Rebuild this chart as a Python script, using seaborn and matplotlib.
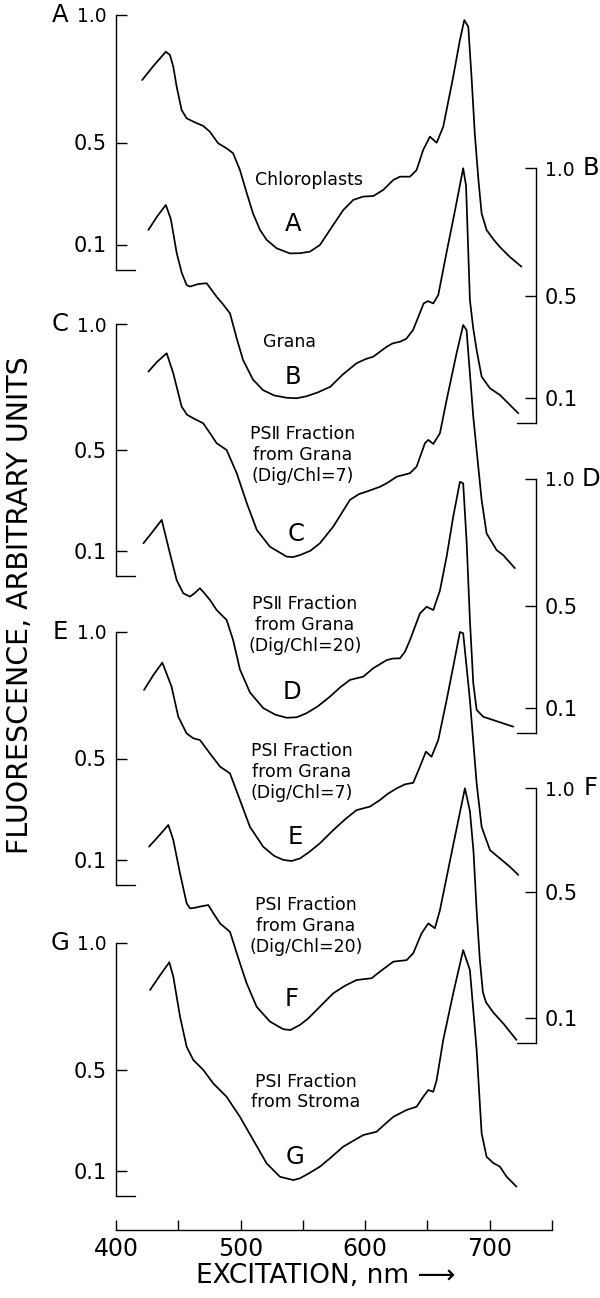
import matplotlib
matplotlib.use("Agg")
import matplotlib.pyplot as plt
import seaborn as sns

# ---------------------------------------------------------------
# Fluorescence excitation spectra (wavelength in nm, relative units)
# ---------------------------------------------------------------
wl_a = [421, 430, 440, 443.3, 446, 448.7, 452.7, 456.7, 462, 470, 475.4, 482, 488.8, 494, 499.5,
        505, 510, 515.6, 521, 529, 539.6, 548, 555.7, 563.7, 571.7, 582.4, 590.5, 598.5, 606.5,
        614.5, 622.6, 628, 636, 641.3, 646.6, 652, 657.4, 662.7, 670.7, 676, 679.6, 682.8, 685.5,
        688, 691, 693.5, 697.5, 703, 708, 716, 725.5]
fl_a = [0.745, 0.80, 0.856, 0.843, 0.797, 0.719, 0.627, 0.595, 0.582, 0.565, 0.542, 0.497, 0.477,
        0.458, 0.392, 0.301, 0.222, 0.157, 0.118, 0.085, 0.065, 0.066, 0.072, 0.098, 0.157, 0.235,
        0.275, 0.288, 0.29, 0.314, 0.353, 0.366, 0.366, 0.392, 0.471, 0.523, 0.499, 0.562, 0.758,
        0.90, 0.98, 0.954, 0.75, 0.536, 0.35, 0.222, 0.157, 0.12, 0.091, 0.052, 0.013]

wl_b = [426, 433, 440, 444, 448.7, 452.7, 456.7, 459.4, 466, 472.8, 477, 480.8, 486, 491.5, 497,
        502, 510, 518, 527, 537, 545, 553, 562, 572, 582, 593, 600, 606.5, 612, 617.3, 622, 628,
        633, 638.5, 643, 647, 650.4, 654.7, 658.7, 665, 672, 678.7, 681, 684.1, 686.8, 689.5,
        693.5, 700.2, 708.2, 716.2, 723]
fl_b = [0.757, 0.81, 0.855, 0.80, 0.667, 0.59, 0.541, 0.535, 0.545, 0.548, 0.52, 0.495, 0.465,
        0.43, 0.33, 0.247, 0.17, 0.129, 0.108, 0.099, 0.097, 0.105, 0.12, 0.142, 0.19, 0.234,
        0.25, 0.26, 0.28, 0.299, 0.312, 0.319, 0.33, 0.365, 0.42, 0.469, 0.478, 0.469, 0.502,
        0.66, 0.83, 0.999, 0.93, 0.482, 0.37, 0.286, 0.182, 0.136, 0.11, 0.071, 0.038]

wl_c = [426, 433, 440.7, 446, 452.7, 457, 462, 470, 475, 480.8, 488.8, 496.9, 505, 513, 523.6,
        537, 542, 547.7, 556, 563.7, 574.4, 587.8, 595, 601.2, 611.9, 618, 625.3, 630, 636, 641.3,
        648, 650.7, 654.7, 660, 665.4, 673.4, 678.7, 681.4, 686.8, 693.5, 697.5, 705.5, 710.8,
        720.2]
fl_c = [0.811, 0.85, 0.884, 0.804, 0.672, 0.64, 0.626, 0.606, 0.57, 0.527, 0.5, 0.408, 0.289,
        0.183, 0.116, 0.077, 0.075, 0.083, 0.10, 0.13, 0.196, 0.302, 0.325, 0.335, 0.354, 0.37,
        0.394, 0.40, 0.408, 0.434, 0.527, 0.54, 0.524, 0.566, 0.698, 0.884, 0.996, 0.976, 0.632,
        0.302, 0.169, 0.103, 0.083, 0.031]

wl_d = [422, 429, 436.7, 443.3, 448.7, 454, 459.4, 463, 467.4, 471, 475.4, 480.8, 488.8, 494,
        499.5, 507.5, 518.2, 528, 537, 545, 553, 562, 571.7, 580, 587.8, 598.5, 606.5, 617.3, 622,
        627.9, 632, 636, 644, 649.4, 654.7, 660, 665.4, 670.7, 676.1, 678.7, 681.5, 684.1, 686.8,
        689.5, 694.8, 702.8, 710.8, 718.9]
fl_d = [0.747, 0.79, 0.839, 0.707, 0.602, 0.55, 0.537, 0.55, 0.57, 0.55, 0.524, 0.484, 0.445,
        0.366, 0.25, 0.16, 0.098, 0.072, 0.06, 0.062, 0.078, 0.105, 0.143, 0.18, 0.209, 0.222,
        0.255, 0.287, 0.293, 0.294, 0.32, 0.366, 0.471, 0.497, 0.484, 0.56, 0.694, 0.852, 0.989,
        0.983, 0.75, 0.445, 0.196, 0.091, 0.064, 0.051, 0.038, 0.025]

wl_e = [422.5, 430, 437.2, 444.6, 450, 456.7, 462, 467.4, 475.4, 483.5, 491.5, 499.5, 507.5,
        518.2, 527, 534.3, 541, 547.7, 555, 563.7, 574.4, 584, 593.1, 603.9, 611.9, 618, 625.3,
        632, 638.6, 644, 648.8, 653.3, 658.7, 665.4, 670.7, 676.1, 678.7, 684.1, 689.5, 693.5,
        700.2, 708.2, 716.2, 722.9]
fl_e = [0.771, 0.83, 0.879, 0.784, 0.665, 0.599, 0.58, 0.573, 0.52, 0.468, 0.441, 0.336, 0.23,
        0.151, 0.115, 0.099, 0.095, 0.105, 0.13, 0.165, 0.217, 0.26, 0.296, 0.31, 0.336, 0.36,
        0.382, 0.398, 0.404, 0.468, 0.527, 0.507, 0.573, 0.731, 0.863, 1.0, 0.995, 0.731, 0.402,
        0.23, 0.138, 0.105, 0.072, 0.04]

wl_f = [426.5, 434, 442, 446, 451.4, 456.7, 459.4, 463, 467.4, 474.1, 478, 483.5, 491.5, 499.5,
        504.9, 512.9, 523.6, 534.3, 540, 547.7, 554, 561, 574.4, 584, 593.1, 605.2, 611.9, 622.6,
        633.3, 638.6, 645.3, 650.7, 656, 660, 670, 680.1, 684.1, 687, 689.5, 692, 694.5, 697,
        702.8, 710.8, 721.5]
fl_f = [0.77, 0.81, 0.855, 0.796, 0.665, 0.548, 0.528, 0.53, 0.535, 0.541, 0.51, 0.469, 0.436,
        0.313, 0.234, 0.142, 0.084, 0.054, 0.051, 0.071, 0.095, 0.129, 0.195, 0.225, 0.247,
        0.254, 0.28, 0.319, 0.325, 0.352, 0.43, 0.469, 0.45, 0.52, 0.76, 0.999, 0.91, 0.75, 0.52,
        0.33, 0.2, 0.16, 0.12, 0.077, 0.012]

wl_g = [427.3, 435, 442.8, 446, 451.4, 456.7, 462, 470.1, 478.1, 488.8, 499.5, 510.2, 520.9,
        531.6, 542.3, 547.7, 555, 563.7, 572, 582.4, 598.5, 609.2, 615, 622.6, 633.3, 641.3,
        646.6, 650.7, 654.7, 657.4, 662.7, 670.7, 678.7, 684.1, 689.5, 693.5, 697.5, 703, 708.2,
        713.6, 721.5]
fl_g = [0.814, 0.87, 0.924, 0.867, 0.709, 0.59, 0.538, 0.498, 0.445, 0.392, 0.313, 0.221, 0.129,
        0.076, 0.063, 0.07, 0.09, 0.116, 0.15, 0.195, 0.241, 0.254, 0.28, 0.313, 0.34, 0.353,
        0.392, 0.419, 0.412, 0.458, 0.617, 0.801, 0.972, 0.893, 0.577, 0.248, 0.155, 0.13, 0.116,
        0.076, 0.037]

panel_letters = ["A", "B", "C", "D", "E", "F", "G"]
panel_names = [
    "Chloroplasts",
    "Grana",
    "PS\u2161 Fraction\nfrom Grana\n(Dig/Chl=7)",
    "PS\u2161 Fraction\nfrom Grana\n(Dig/Chl=20)",
    "PS\u2160 Fraction\nfrom Grana\n(Dig/Chl=7)",
    "PS\u2160 Fraction\nfrom Grana\n(Dig/Chl=20)",
    "PS\u2160 Fraction\nfrom Stroma",
]
ytick_labels = ["0.1", "0.5", "1.0"]
xtick_values = [400, 450, 500, 550, 600, 650, 700, 750]
xtick_labels = ["400", "", "500", "", "600", "", "700", ""]

# ---------------------------------------------------------------
sns.set_theme(style="white")
plt.rcParams["font.family"] = ["DejaVu Sans"]
plt.rcParams["axes.linewidth"] = 1.0
for key in ["text.color", "axes.labelcolor", "xtick.color", "ytick.color", "axes.edgecolor"]:
    plt.rcParams[key] = "black"

W, H = 600, 1298
fig = plt.figure(figsize=(W / 100, H / 100), dpi=100)


def fx(px):
    return px / W


def fy(py):
    return 1 - py / H


PX_PER_NM = (552 - 116) / 350.0
X0, X1 = 116, 536
XMAX = 400 + (X1 - X0) / PX_PER_NM

# layout of each stacked panel: side of its bracket, pixel rows of 1.0 and 0,
# tick positions on the bracket, and where its captions sit
layout = [
    dict(side="left", top=15, bot=270, ticks=[0.1, 0.5, 1.0], letter=(293, 224), name=(309, 180)),
    dict(side="right", top=168, bot=423, ticks=[0.1, 0.5, 1.0], letter=(293, 377), name=(290, 342)),
    dict(side="left", top=324, bot=576, ticks=[0.1, 0.5, 1.0], letter=(296, 534), name=(303, 455)),
    dict(side="right", top=479, bot=733, ticks=[0.1, 0.5, 1.0], letter=(292, 692), name=(305, 625)),
    dict(side="left", top=632, bot=885, ticks=[0.1, 0.5, 1.0], letter=(295, 837), name=(302, 772)),
    dict(side="right", top=788, bot=1043, ticks=[0.1, 0.593, 1.0], letter=(292, 999), name=(306, 926)),
    dict(side="left", top=943, bot=1196, ticks=[0.1, 0.5, 1.0], letter=(295, 1157), name=(306, 1092)),
]
series = [(wl_a, fl_a), (wl_b, fl_b), (wl_c, fl_c), (wl_d, fl_d),
          (wl_e, fl_e), (wl_f, fl_f), (wl_g, fl_g)]

for lay, (wl, fl), letter, name in zip(layout, series, panel_letters, panel_names):
    ax = fig.add_axes([fx(X0), fy(lay["bot"]), fx(X1) - fx(X0), (lay["bot"] - lay["top"]) / H])
    ax.patch.set_alpha(0)
    sns.lineplot(x=wl, y=fl, ax=ax, color="black", lw=1.25, sort=False, estimator=None)
    for ln in ax.lines:
        ln.set_clip_on(False)
        ln.set_solid_joinstyle("round")
        ln.set_solid_capstyle("round")
    ax.set_xlim(400, XMAX)
    ax.set_ylim(0, 1)
    ax.set_xticks([])
    ax.set_xlabel("")
    ax.set_ylabel("")
    for s in ["top", "bottom", "left", "right"]:
        ax.spines[s].set_visible(False)
    ax.spines[lay["side"]].set_visible(True)
    ax.spines[lay["side"]].set_color("black")
    ax.spines[lay["side"]].set_linewidth(1.0)
    ax.set_yticks(lay["ticks"])
    ax.set_yticklabels(ytick_labels)
    if lay["side"] == "left":
        ax.tick_params(axis="y", left=True, right=False, labelleft=True, labelright=False,
                       direction="in", length=8, width=1.0, pad=6.5, labelsize=15, colors="black")
        ax.axhline(0, xmin=0, xmax=19 / (X1 - X0), color="black", lw=1.0, clip_on=False)
        letter_x = 60
    else:
        ax.yaxis.tick_right()
        ax.tick_params(axis="y", left=False, right=True, labelleft=False, labelright=True,
                       direction="in", length=8, width=1.0, pad=6.5, labelsize=15, colors="black")
        ax.axhline(0, xmin=1 - 19 / (X1 - X0), xmax=1, color="black", lw=1.0, clip_on=False)
        letter_x = 591
    for lbl in ax.get_yticklabels():
        if lbl.get_text() == "1.0":
            lbl.set_fontsize(13.5)
    # panel letter beside the 1.0 mark
    fig.text(fx(letter_x), fy(lay["top"]), letter, ha="center", va="center", fontsize=17.5)
    # caption and large letter inside the trough of the curve
    fig.text(fx(lay["name"][0]), fy(lay["name"][1]), name, ha="center", va="center",
             multialignment="center", fontsize=12.5, linespacing=1.2)
    fig.text(fx(lay["letter"][0]), fy(lay["letter"][1]), letter, ha="center", va="center",
             fontsize=17.5)

# common wavelength axis
axb = fig.add_axes([fx(116), fy(1230), fx(552) - fx(116), 20 / H])
axb.patch.set_alpha(0)
axb.set_xlim(400, 750)
axb.set_ylim(0, 1)
axb.set_yticks([])
for s in ["top", "left", "right"]:
    axb.spines[s].set_visible(False)
axb.spines["bottom"].set_color("black")
axb.spines["bottom"].set_linewidth(1.0)
axb.set_xticks(xtick_values)
axb.set_xticklabels(xtick_labels)
axb.tick_params(axis="x", bottom=True, direction="in", length=7.5, width=1.0, pad=5,
                labelsize=17, colors="black")

fig.text(fx(326), fy(1283), "EXCITATION, nm \u27f6", ha="center", va="baseline", fontsize=19)
fig.text(fx(20), fy(605), "FLUORESCENCE, ARBITRARY UNITS", rotation=90, ha="center",
         va="center", fontsize=20.5)

fig.savefig("out.png", dpi=100, facecolor="white")
